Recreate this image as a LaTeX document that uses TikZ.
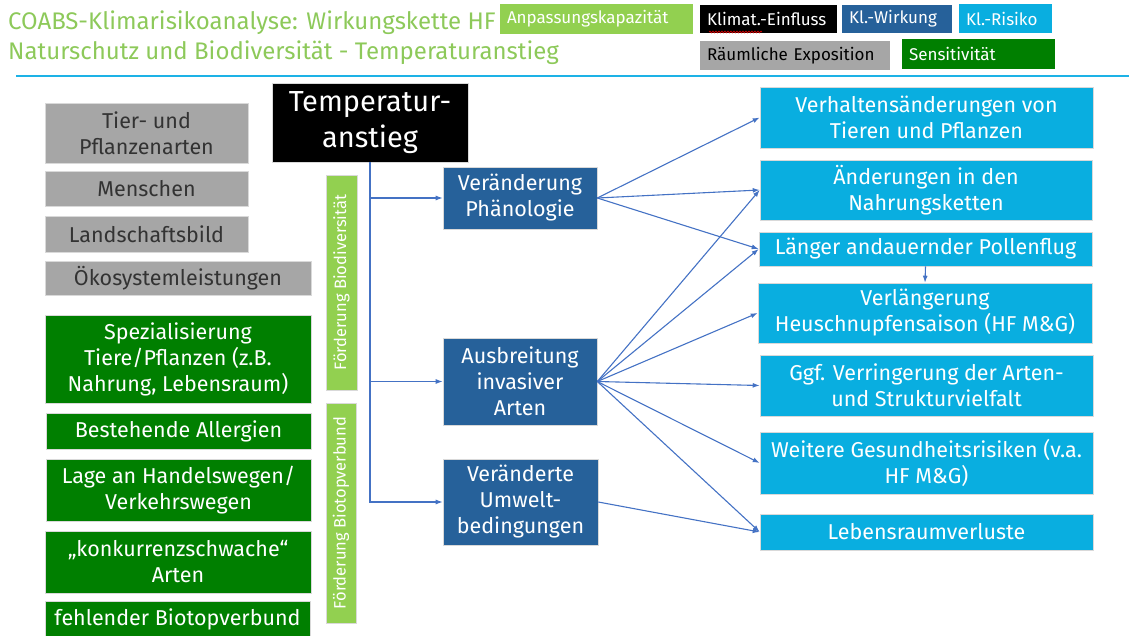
\documentclass[tikz,border=0pt]{standalone}
\usepackage{fontspec}
\setmainfont{Fira Sans}
\usetikzlibrary{arrows.meta,decorations.pathmorphing}
\definecolor{lgreen}{HTML}{92D050}
\definecolor{tgreen}{HTML}{8DC95A}
\definecolor{dgreen}{HTML}{007F00}
\definecolor{grayfill}{HTML}{A6A6A6}
\definecolor{dblue}{HTML}{26619A}
\definecolor{cyanfill}{HTML}{09AEE0}
\definecolor{arrowblue}{HTML}{4472C4}
\definecolor{rulecyan}{HTML}{1DB2E6}
\tikzset{
  basebox/.style={rectangle, inner sep=0pt, align=center, draw=white!85!black, line width=0.6pt,
    font=\fontsize{21.5}{26}\selectfont},
  exposure/.style={basebox, fill=grayfill, text=black!80},
  sensitiv/.style={basebox, fill=dgreen, text=white},
  adapt/.style={basebox, fill=lgreen, text=white, font=\fontsize{16.5}{19}\selectfont},
  effect/.style={basebox, fill=dblue, text=white},
  risk/.style={basebox, fill=cyanfill, text=white},
  driver/.style={basebox, fill=black, text=white, font=\fontsize{29}{36}\selectfont},
  legend/.style={rectangle, inner xsep=7pt, inner ysep=0pt, align=left, font=\fontsize{17}{19}\selectfont},
  link/.style={draw=arrowblue, line width=1.1pt, -{Latex[length=7pt,width=5pt]}},
}
\begin{document}
\begin{tikzpicture}[x=1pt,y=-1pt]
\useasboundingbox (0,0) rectangle (1129,635);

% heading
\node[anchor=base west, inner sep=0pt, text=tgreen, font=\fontsize{24}{28}\selectfont] (title1) at (8,29)
  {COABS-Klimarisikoanalyse: Wirkungskette HF};
\node[anchor=base west, inner sep=0pt, text=tgreen, font=\fontsize{24}{28}\selectfont] (title2) at (8,59)
  {Naturschutz und Biodiversität - Temperaturanstieg};

% colour key
\node[legend, fill=lgreen, text=white, text width=179pt, minimum height=30] (kA) at (596.5,19) {Anpassungskapazität};
\node[legend, fill=black, text=white, text width=123pt, minimum height=28] (kK) at (768.5,19) {Klimat.-Einfluss};
\node[legend, fill=dblue, text=white, text width=96pt, minimum height=28] (kW) at (897,19) {Kl.-Wirkung};
\node[legend, fill=cyanfill, text=white, text width=79pt, minimum height=29] (kR) at (1005.5,18.5) {Kl.-Risiko};
\node[legend, fill=grayfill, text=black, text width=176pt, minimum height=29] (kE) at (795,55.5) {Räumliche Exposition};
\node[legend, fill=dgreen, text=white, text width=139pt, minimum height=30] (kS) at (978.5,54) {Sensitivität};
\draw[red!85!black, line width=0.7pt, decorate, decoration={snake, amplitude=0.9pt, segment length=3pt}]
  (709,32) -- (762,32);

% separator rule
\draw[rulecyan, line width=2pt] (16,76) -- (1129,76);

% spatial exposure
\node[exposure, minimum width=203, minimum height=60] (tier) at (146.5,133) {Tier- und\\Pflanzenarten};
\node[exposure, minimum width=203, minimum height=35] (mensch) at (146.5,188.5) {Menschen};
\node[exposure, minimum width=203, minimum height=36] (land) at (146.5,234) {Landschaftsbild};
\node[exposure, minimum width=266, minimum height=34] (oeko) at (178,278) {Ökosystemleistungen};

% sensitivity
\node[sensitiv, minimum width=266, minimum height=88] (spez) at (178,359) {Spezialisierung\\Tiere/Pflanzen (z.B.\\Nahrung, Lebensraum)};
\node[sensitiv, minimum width=265, minimum height=36] (allerg) at (178.5,431) {Bestehende Allergien};
\node[sensitiv, minimum width=265, minimum height=62] (lage) at (178.5,490) {Lage an Handelswegen/\\Verkehrswegen};
\node[sensitiv, minimum width=266, minimum height=62] (konk) at (178,562) {„konkurrenzschwache“\\Arten};
\node[sensitiv, minimum width=265, minimum height=36] (fehl) at (177.5,619) {fehlender Biotopverbund};

% adaptive capacity
\node[adapt, minimum width=215, minimum height=31, rotate=90] (fbio) at (341.5,282.5) {Förderung Biodiversität};
\node[adapt, minimum width=220, minimum height=30, rotate=90] (fbv) at (341,513) {Förderung Biotopverbund};

% climate driver
\node[driver, minimum width=196, minimum height=79] (temp) at (370,122.5) {Temperatur-\\anstieg};

% climate effects
\node[effect, minimum width=154, minimum height=62] (phaen) at (520,198) {Veränderung\\Phänologie};
\node[effect, minimum width=154, minimum height=87] (ausbr) at (520,381.5) {Ausbreitung\\invasiver\\Arten};
\node[effect, minimum width=155, minimum height=86] (umwelt) at (520.5,502) {Veränderte\\Umwelt-\\bedingungen};

% climate risks
\node[risk, minimum width=333, minimum height=61] (verh) at (926.5,117.5) {Verhaltensänderungen von\\Tieren und Pflanzen};
\node[risk, minimum width=332, minimum height=60] (nahr) at (926,190) {Änderungen in den\\Nahrungsketten};
\node[risk, minimum width=333, minimum height=34] (pollen) at (925.5,249) {Länger andauernder Pollenflug};
\node[risk, minimum width=334, minimum height=60] (heu) at (925,313) {Verlängerung\\Heuschnupfensaison (HF M\&G)};
\node[risk, minimum width=333, minimum height=61] (ggf) at (926.5,385.5) {Ggf. Verringerung der Arten-\\und Strukturvielfalt};
\node[risk, minimum width=333, minimum height=62] (weit) at (926.5,463) {Weitere Gesundheitsrisiken (v.a.\\HF M\&G)};
\node[risk, minimum width=333, minimum height=36] (leb) at (926.5,532) {Lebensraumverluste};

% driver to effects
\draw[link] (temp.south) |- (umwelt.west);
\draw[link] (temp.south |- phaen.west) -- (phaen.west);
\draw[link] (temp.south |- ausbr.west) -- (ausbr.west);

% effects to risks
\draw[link] (phaen.east) -- (verh.west);
\draw[link] (phaen.east) -- (nahr.west);
\draw[link] (phaen.east) -- (pollen.west);
\draw[link] (ausbr.east) -- (nahr.west);
\draw[link] (ausbr.east) -- (pollen.west);
\draw[link] (ausbr.east) -- (heu.west);
\draw[link] (ausbr.east) -- (ggf.west);
\draw[link] (ausbr.east) -- (weit.west);
\draw[link] (ausbr.east) -- (leb.west);
\draw[link] (umwelt.east) -- (leb.west);
\draw[link] (pollen.south) -- (heu.north);
\end{tikzpicture}
\end{document}
